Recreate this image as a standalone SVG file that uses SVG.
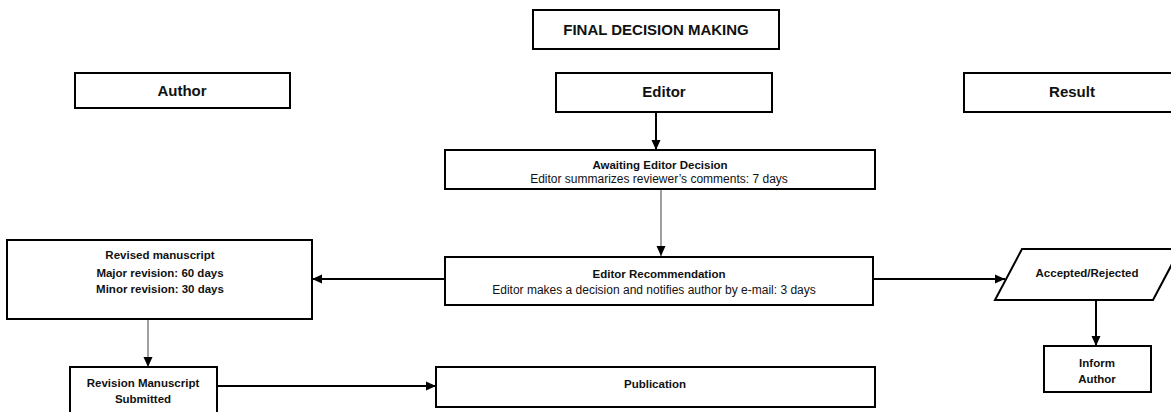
<svg xmlns="http://www.w3.org/2000/svg" width="1171" height="412" viewBox="0 0 1171 412">
<style>
.box{fill:#fff;stroke:#000;stroke-width:2}
.h{font-family:"Liberation Sans",Arial,sans-serif;font-weight:bold;font-size:15px;text-anchor:middle;fill:#111}
.b{font-family:"Liberation Sans",Arial,sans-serif;font-weight:bold;font-size:11.5px;text-anchor:middle;fill:#111}
.r{font-family:"Liberation Sans",Arial,sans-serif;font-size:12px;text-anchor:middle;fill:#111}
.c{stroke:#000;stroke-width:2;fill:none}
.g{stroke:#7f7f7f;stroke-width:1.5;fill:none}
</style>
<defs>
<marker id="ah" markerUnits="userSpaceOnUse" markerWidth="10" markerHeight="10" viewBox="0 0 10 10" refX="10" refY="5" orient="auto"><path d="M0,0.5 L10,5 L0,9.5 Z" fill="#000"/></marker>
</defs>
<rect width="1171" height="412" fill="#fff"/>
<g id="connectors">
<line class="c" x1="656" y1="112" x2="656" y2="150" marker-end="url(#ah)"/>
<line class="g" x1="661" y1="189" x2="661" y2="256" marker-end="url(#ah)"/>
<line class="c" x1="445" y1="279" x2="312" y2="279" marker-end="url(#ah)"/>
<line class="c" x1="873" y1="279" x2="1005" y2="279" marker-end="url(#ah)"/>
<line class="c" x1="1096" y1="300" x2="1096" y2="346" marker-end="url(#ah)"/>
<line class="g" x1="148" y1="319" x2="148" y2="367" marker-end="url(#ah)"/>
<line class="c" x1="217" y1="386" x2="436" y2="386" marker-end="url(#ah)"/>
</g>
<g id="title"><rect class="box" x="533" y="10" width="246" height="39"/><text class="h" x="656" y="35">FINAL DECISION MAKING</text></g>
<g id="author"><rect class="box" x="75" y="73" width="215" height="35"/><text class="h" x="182" y="96">Author</text></g>
<g id="editor"><rect class="box" x="556" y="73" width="216" height="39"/><text class="h" x="664" y="97">Editor</text></g>
<g id="result"><rect class="box" x="964" y="73" width="230" height="39"/><text class="h" x="1072" y="97">Result</text></g>
<g id="awaiting"><rect class="box" x="445" y="150" width="430" height="39"/><text class="b" x="660" y="169">Awaiting Editor Decision</text><text class="r" x="659" y="183">Editor summarizes reviewer’s comments: 7 days</text></g>
<g id="recommendation"><rect class="box" x="445" y="257" width="428" height="48"/><text class="b" x="659" y="278">Editor Recommendation</text><text class="r" x="654" y="294">Editor makes a decision and notifies author by e-mail: 3 days</text></g>
<g id="revised"><rect class="box" x="7" y="240" width="305" height="79"/><text class="b" x="160" y="259">Revised manuscript</text><text class="b" x="160" y="277">Major revision: 60 days</text><text class="b" x="160" y="293">Minor revision: 30 days</text></g>
<g id="accepted"><polygon class="box" points="1022,249 1180,249 1153,300 995,300"/><text class="b" x="1087" y="277">Accepted/Rejected</text></g>
<g id="inform"><rect class="box" x="1044" y="346" width="107" height="46"/><text class="b" x="1097" y="367">Inform</text><text class="b" x="1097" y="383">Author</text></g>
<g id="submitted"><rect class="box" x="70" y="367" width="147" height="52"/><text class="b" x="143" y="387">Revision Manuscript</text><text class="b" x="143" y="403">Submitted</text></g>
<g id="publication"><rect class="box" x="436" y="367" width="439" height="40"/><text class="b" x="655" y="388">Publication</text></g>
</svg>
